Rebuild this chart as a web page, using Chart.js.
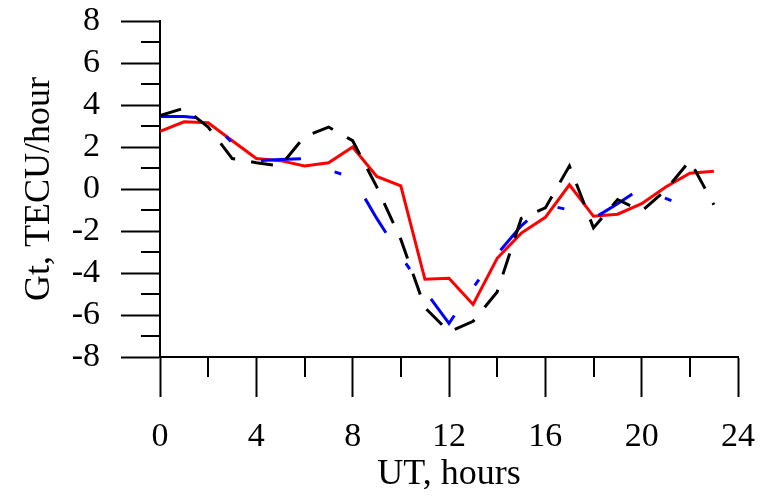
<!DOCTYPE html>
<html>
<head>
<meta charset="utf-8">
<script src="https://cdn.jsdelivr.net/npm/chart.js@4"></script>
<style>
  html, body { margin:0; padding:0; background:#fff; }
  #wrap { width:760px; height:496px; position:relative; }
</style>
</head>
<body>
<div id="wrap"><canvas id="gtChart"></canvas></div>
<script>
// Gt (TECU/hour) vs UT, three hourly curves

var hours   = [0, 1, 2, 3, 4, 5, 6, 7, 8, 9, 10, 11, 12, 13, 14, 15, 16, 17, 18, 19, 20, 21, 22, 23];
var gtRed   = [2.75, 3.2, 3.15, 2.3, 1.45, 1.35, 1.1, 1.25, 2.0, 0.6, 0.15, -4.3,
               -4.25, -5.5, -3.3, -2.1, -1.35, 0.2, -1.3, -1.2, -0.7, 0.1, 0.75, 0.85];
var gtBlue  = [3.45, 3.45, 3.35, 2.2, 1.35, 1.4, 1.45, 0.9, 0.55, -1.4, -3.2, -4.85,
               -6.4, -4.7, -3.1, -1.75, -0.75, -1.0, -1.4, -0.7, 0.05, -0.45, -0.9, null];
var gtBlack = [3.5, 3.85, 2.95, 1.45, 1.25, 1.1, 2.5, 2.95, 2.3, 0.1, -2.4, -5.65,
               -6.8, -6.3, -4.9, -1.4, -0.9, 1.1, -1.85, -0.5, -1.05, -0.05, 1.35, -0.75];

var xMajorTicks = [0, 4, 8, 12, 16, 20, 24];
var xMinorTicks = [2, 6, 10, 14, 18, 22];
var yMajorTicks = [-8, -6, -4, -2, 0, 2, 4, 6, 8];
var yMinorTicks = [-7, -5, -3, -1, 1, 3, 5, 7];

var SERIF = '"Liberation Serif", "Times New Roman", serif';

function pts(vals) {
  return hours.map(function(h, i) { return { x: h, y: vals[i] }; });
}

// short ticks in between the labelled ones
var minorTicks = {
  id: 'minorTicks',
  afterDraw: function(chart) {
    var ctx = chart.ctx, xs = chart.scales.x, ys = chart.scales.y;
    var area = chart.chartArea;
    ctx.save();
    ctx.strokeStyle = '#000';
    ctx.lineWidth = 2;
    ctx.beginPath();
    xMinorTicks.forEach(function(v) {
      var px = Math.round(xs.getPixelForValue(v));
      ctx.moveTo(px, area.bottom);
      ctx.lineTo(px, area.bottom + 20);
    });
    yMinorTicks.forEach(function(v) {
      var py = Math.round(ys.getPixelForValue(v));
      ctx.moveTo(area.left, py);
      ctx.lineTo(area.left - 19, py);
    });
    ctx.stroke();
    ctx.restore();
  }
};

new Chart(document.getElementById('gtChart').getContext('2d'), {
  type: 'line',
  data: {
    datasets: [
      { data: pts(gtBlack), borderColor: '#000', borderWidth: 3, borderDash: [22, 16.2],
        pointRadius: 0, tension: 0, fill: false, order: 0 },
      { data: pts(gtBlue),  borderColor: '#0000ff', borderWidth: 3, borderDash: [40, 36.5, 7, 36.5],
        borderDashOffset: 3, pointRadius: 0, tension: 0, fill: false, spanGaps: false, order: 1 },
      { data: pts(gtRed),   borderColor: '#ff0000', borderWidth: 3,
        pointRadius: 0, tension: 0, fill: false, order: 2 }
    ]
  },
  options: {
    responsive: true, maintainAspectRatio: false,
    animation: false,
    layout: { padding: { top: 21, right: 22, left: 0, bottom: 0 } },
    plugins: { legend: { display: false }, tooltip: { enabled: false } },
    scales: {
      x: {
        type: 'linear', min: 0, max: 24,
        afterBuildTicks: function(s) { s.ticks = xMajorTicks.map(function(v) { return { value: v }; }); },
        afterFit: function(s) { s.height = 139; s.paddingLeft = 0; s.paddingRight = 0; },
        ticks: { color: '#000', font: { family: SERIF, size: 34 }, padding: 20, maxRotation: 0, autoSkip: false },
        grid: { drawOnChartArea: false, tickLength: 40, tickColor: '#000', tickWidth: 2 },
        border: { color: '#000', width: 2 },
        title: { display: true, text: 'UT, hours', color: '#000',
                 font: { family: SERIF, size: 36 }, padding: { top: 0, bottom: 0 } }
      },
      y: {
        min: -8, max: 8,
        afterBuildTicks: function(s) { s.ticks = yMajorTicks.map(function(v) { return { value: v }; }); },
        afterFit: function(s) { s.width = 160; s.paddingTop = 0; s.paddingBottom = 0; },
        ticks: { color: '#000', font: { family: SERIF, size: 34 }, padding: 21, autoSkip: false },
        grid: { drawOnChartArea: false, tickLength: 39, tickColor: '#000', tickWidth: 2 },
        border: { color: '#000', width: 2 },
        title: { display: true, text: 'Gt, TECU/hour', color: '#000',
                 font: { family: SERIF, size: 36 }, padding: { top: 18, bottom: 0 } }
      }
    }
  },
  plugins: [minorTicks]
});
</script>
</body>
</html>
